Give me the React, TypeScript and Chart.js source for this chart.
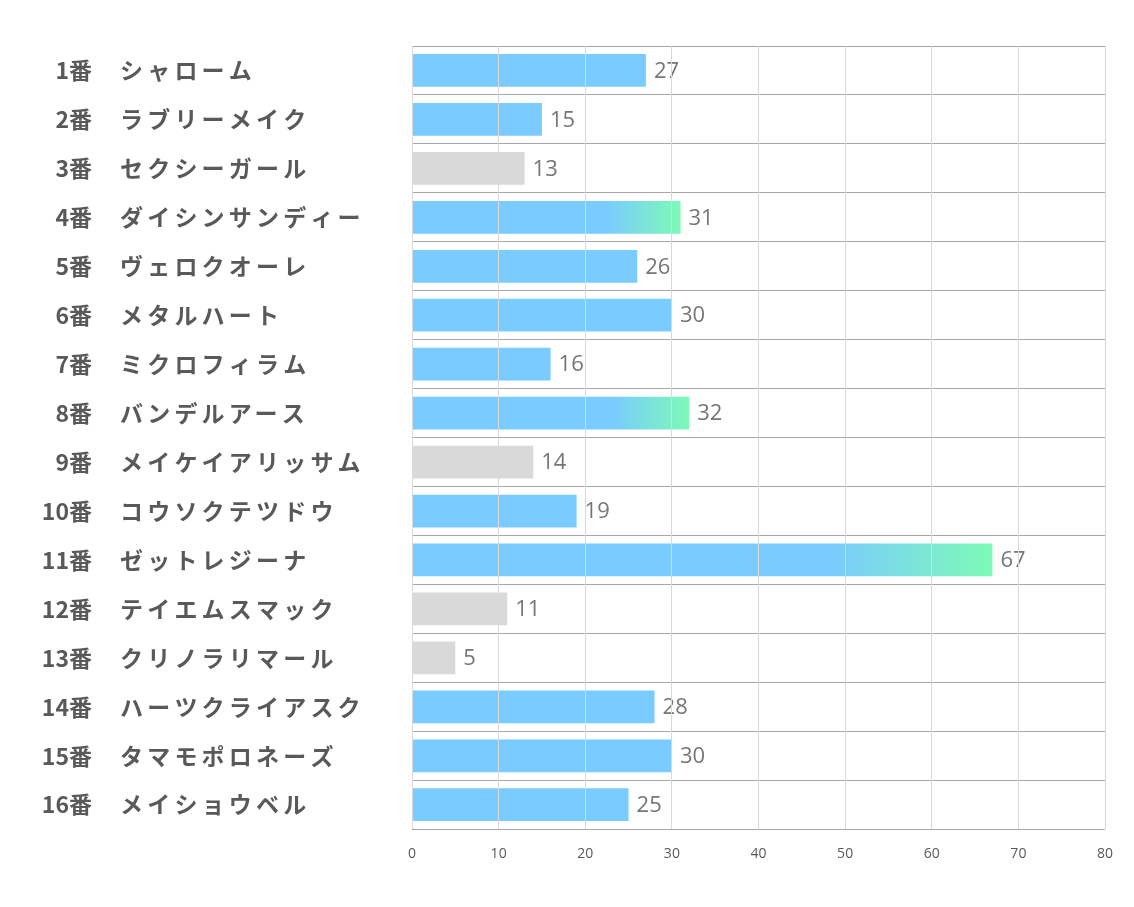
import React, { useEffect, useRef } from "react";
import { Chart, registerables } from "chart.js";

Chart.register(...registerables);

const numbers = ["1番", "2番", "3番", "4番", "5番", "6番", "7番", "8番", "9番", "10番", "11番", "12番", "13番", "14番", "15番", "16番"];
const names = ["シャローム", "ラブリーメイク", "セクシーガール", "ダイシンサンディー", "ヴェロクオーレ", "メタルハート", "ミクロフィラム", "バンデルアース", "メイケイアリッサム", "コウソクテツドウ", "ゼットレジーナ", "テイエムスマック", "クリノラリマール", "ハーツクライアスク", "タマモポロネーズ", "メイショウベル"];
const values = [27, 15, 13, 31, 26, 30, 16, 32, 14, 19, 67, 11, 5, 28, 30, 25];
// 0 = normal, 1 = gray, 2 = top (gradient)
const kinds = [0, 0, 1, 2, 0, 0, 0, 2, 1, 0, 2, 1, 1, 0, 0, 0];
const xTicks = [0, 10, 20, 30, 40, 50, 60, 70, 80];

const BLUE = "#7ACBFF";
const GREEN = "#7DFAB6";
const GRAY = "#D9D9D9";
const JP_FONT = "'Noto Sans CJK JP', 'Noto Sans', sans-serif";

const labelPlugin = {
  id: "labelPlugin",
  afterDatasetsDraw(chart: any) {
    const { ctx } = chart;
    const y = chart.scales.y;
    const x = chart.scales.x;
    ctx.save();
    ctx.textBaseline = "middle";
    numbers.forEach((n, i) => {
      const py = y.getPixelForValue(i);
      ctx.fillStyle = "#595959";
      ctx.font = `bold 23px ${JP_FONT}`;
      ctx.letterSpacing = "0px";
      ctx.textAlign = "right";
      ctx.fillText(n, 84, py);
      ctx.textAlign = "left";
      ctx.letterSpacing = "4.2px";
      ctx.fillText(names[i], 112, py);
      ctx.letterSpacing = "0px";
      ctx.font = `22px 'Open Sans', 'Noto Sans', sans-serif`;
      ctx.fillStyle = "#767676";
      ctx.fillText(String(values[i]), x.getPixelForValue(values[i]) + 8, py + 1);
    });
    ctx.restore();
  },
};

export default function App() {
  const ref = useRef<HTMLCanvasElement>(null);
  useEffect(() => {
    if (!ref.current) return;
    const chart = new Chart(ref.current, {
      type: "bar",
      data: {
        labels: names,
        datasets: [
          {
            data: values,
            backgroundColor: (c: any) => {
              const i = c.dataIndex;
              const k = kinds[i];
              if (k === 1) return GRAY;
              if (k === 0) return BLUE;
              const ch = c.chart;
              const xs = ch.scales && ch.scales.x;
              if (!xs || !ch.chartArea) return BLUE;
              const x0 = xs.getPixelForValue(0);
              const x1 = xs.getPixelForValue(values[i]);
              const g = ch.ctx.createLinearGradient(x0, 0, x1, 0);
              g.addColorStop(0, BLUE);
              g.addColorStop(0.72, BLUE);
              g.addColorStop(1, GREEN);
              return g;
            },
            borderWidth: 0,
            barPercentage: 0.67,
            categoryPercentage: 1,
          },
        ],
      },
      options: {
        indexAxis: "y",
        responsive: false,
        animation: false,
        maintainAspectRatio: false,
        layout: { padding: { top: 38, left: 404, right: 21, bottom: 21 } },
        plugins: { legend: { display: false }, tooltip: { enabled: false } },
        scales: {
          x: {
            min: 0,
            max: 80,
            afterBuildTicks: (s: any) => {
              s.ticks = xTicks.map((v) => ({ value: v }));
            },
            afterFit: (s: any) => {
              s.paddingLeft = 0;
              s.paddingRight = 0;
            },
            grid: { color: "#D9D9D9", lineWidth: 1, drawTicks: false, z: 1 },
            border: { display: false },
            ticks: { color: "#595959", font: { size: 14, family: "'Open Sans', 'Noto Sans', sans-serif" }, padding: 16 },
          },
          y: {
            grid: { color: "#A6A6A6", lineWidth: 1, drawTicks: false, offset: true },
            border: { display: false },
            ticks: { display: false },
          },
        },
      },
      plugins: [labelPlugin],
    } as any);
    return () => chart.destroy();
  }, []);
  return (
    <div style={{ width: 1118, height: 891 }}>
      <canvas ref={ref} width={1118} height={891} style={{ display: "block" }} />
    </div>
  );
}
